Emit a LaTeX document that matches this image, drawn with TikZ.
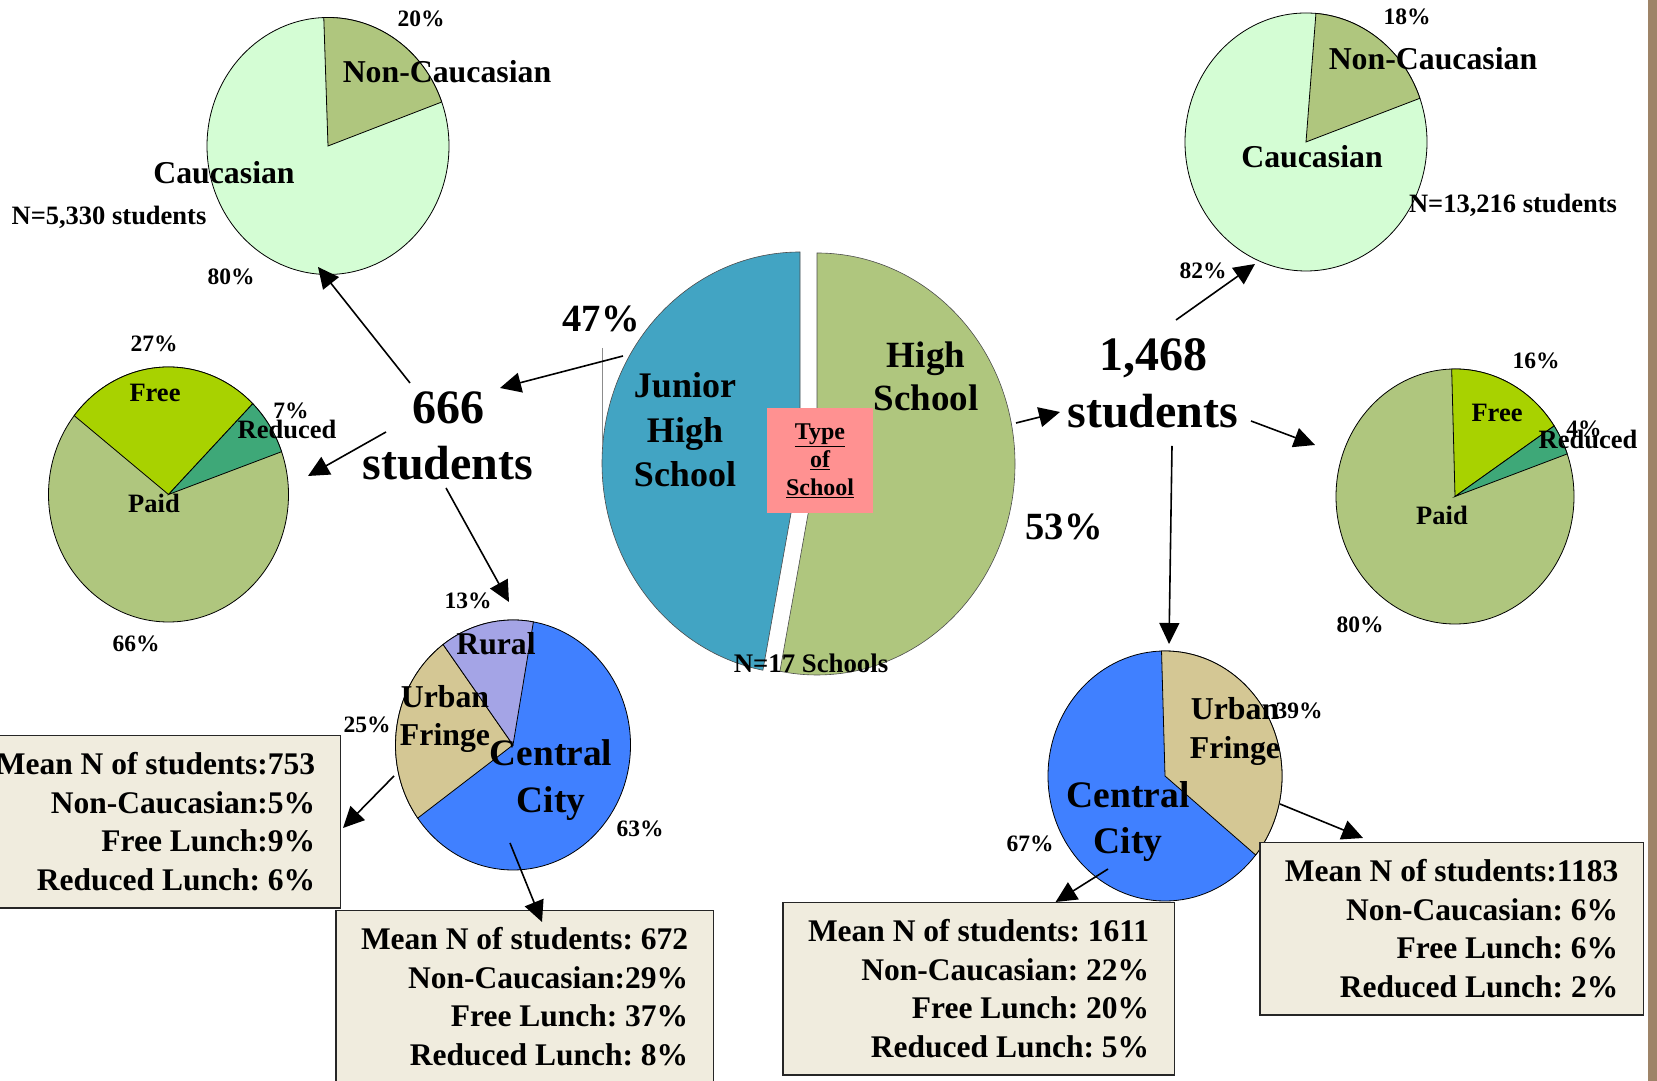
\documentclass[tikz,border=0pt]{standalone}
\usepackage{fontspec}
\setmainfont{Liberation Serif}
\usetikzlibrary{arrows.meta}
\definecolor{cauc}{RGB}{212,253,212}
\definecolor{olive}{RGB}{175,198,126}
\definecolor{freeg}{RGB}{168,210,0}
\definecolor{redg}{RGB}{62,168,120}
\definecolor{jrblue}{RGB}{66,164,195}
\definecolor{cityblue}{RGB}{64,128,255}
\definecolor{fringe}{RGB}{212,199,148}
\definecolor{rural}{RGB}{164,164,230}
\definecolor{pinkbox}{RGB}{255,145,145}
\definecolor{boxfill}{RGB}{240,236,222}
\definecolor{barbrown}{RGB}{158,132,104}
\newcommand\fs[2]{\fontsize{#1}{#2}\selectfont}
\frenchspacing
\begin{document}
\begin{tikzpicture}[x=1pt, y=1pt,
    pieline/.style={draw=black, line width=0.8pt},
    link/.style={line width=1.6pt, -{Triangle[length=21pt,width=20pt]}},
    pct/.style={inner sep=0pt, anchor=base, font=\bfseries\fs{23.5}{27}},
    big/.style={inner sep=0pt, anchor=base, font=\bfseries\fs{38.5}{44}},
    lab/.style 2 args={inner sep=0pt, align=center, font=\bfseries\fs{#1}{#2}},
    infobox/.style={draw=black!85, line width=1.5pt, fill=boxfill, align=right,
      inner xsep=25pt, inner ysep=17pt, anchor=north east, font=\bfseries\fs{31.5}{38.5}}]
  \useasboundingbox (0,0) rectangle (1657,1081);
  \fill[barbrown] (1648,0) rectangle (1657,1081);

  \begin{scope}[shift={(800,618)}]
    \filldraw[draw=black!70, line width=0.6pt, fill=jrblue] (0,0) -- (90:198pt and 211pt)
      arc[start angle=90, end angle=259.2, x radius=198pt, y radius=211pt] -- cycle;
  \end{scope}
  \begin{scope}[shift={(817,617)}]
    \filldraw[draw=black!70, line width=0.6pt, fill=olive] (0,0) -- (90:198pt and 211pt)
      arc[start angle=90, end angle=-100.8, x radius=198pt, y radius=211pt] -- cycle;
  \end{scope}

  \begin{scope}[shift={(328,935)}]
    \filldraw[pieline, fill=cauc] (0,0) ellipse[x radius=121pt, y radius=128.5pt];
    \filldraw[pieline, fill=olive] (0,0) -- (20:121pt and 128.5pt)
      arc[start angle=20, end angle=92, x radius=121pt, y radius=128.5pt] -- cycle;
  \end{scope}

  \begin{scope}[shift={(1306,939)}]
    \filldraw[pieline, fill=cauc] (0,0) ellipse[x radius=121pt, y radius=129pt];
    \filldraw[pieline, fill=olive] (0,0) -- (19.8:121pt and 129pt)
      arc[start angle=19.8, end angle=85.3, x radius=121pt, y radius=129pt] -- cycle;
  \end{scope}

  \begin{scope}[shift={(168.5,586.5)}]
    \filldraw[pieline, fill=olive] (0,0) ellipse[x radius=120pt, y radius=127.5pt];
    \filldraw[pieline, fill=freeg] (0,0) -- (45.4:120pt and 127.5pt)
      arc[start angle=45.4, end angle=141.8, x radius=120pt, y radius=127.5pt] -- cycle;
    \filldraw[pieline, fill=redg] (0,0) -- (19.6:120pt and 127.5pt)
      arc[start angle=19.6, end angle=45.4, x radius=120pt, y radius=127.5pt] -- cycle;
  \end{scope}

  \begin{scope}[shift={(1455,584.5)}]
    \filldraw[pieline, fill=olive] (0,0) ellipse[x radius=119pt, y radius=127.5pt];
    \filldraw[pieline, fill=freeg] (0,0) -- (33.6:119pt and 127.5pt)
      arc[start angle=33.6, end angle=91.6, x radius=119pt, y radius=127.5pt] -- cycle;
    \filldraw[pieline, fill=redg] (0,0) -- (19.5:119pt and 127.5pt)
      arc[start angle=19.5, end angle=33.6, x radius=119pt, y radius=127.5pt] -- cycle;
  \end{scope}

  \begin{scope}[shift={(513,336)}]
    \filldraw[pieline, fill=cityblue] (0,0) ellipse[x radius=117.5pt, y radius=125pt];
    \filldraw[pieline, fill=fringe] (0,0) -- (126.5:117.5pt and 125pt)
      arc[start angle=126.5, end angle=215.8, x radius=117.5pt, y radius=125pt] -- cycle;
    \filldraw[pieline, fill=rural] (0,0) -- (80:117.5pt and 125pt)
      arc[start angle=80, end angle=126.5, x radius=117.5pt, y radius=125pt] -- cycle;
  \end{scope}

  \begin{scope}[shift={(1165,305)}]
    \filldraw[pieline, fill=cityblue] (0,0) ellipse[x radius=117pt, y radius=125pt];
    \filldraw[pieline, fill=fringe] (0,0) -- (-39.2:117pt and 125pt)
      arc[start angle=-39.2, end angle=91.7, x radius=117pt, y radius=125pt] -- cycle;
  \end{scope}

  \node[infobox] (jrfringebox) at (341,346) {Mean N of students:753\\Non-Caucasian:5\%\\Free Lunch:9\%\\Reduced Lunch: 6\%};
  \node[infobox] (jrcitybox) at (714,171) {Mean N of students: 672\\Non-Caucasian:29\%\\Free Lunch: 37\%\\Reduced Lunch: 8\%};
  \node[infobox] (hscitybox) at (1175,179) {Mean N of students: 1611\\Non-Caucasian: 22\%\\Free Lunch: 20\%\\Reduced Lunch: 5\%};
  \node[infobox] (hsfringebox) at (1644,239) {Mean N of students:1183\\Non-Caucasian: 6\%\\Free Lunch: 6\%\\Reduced Lunch: 2\%};

  \coordinate (jrout) at (623,725);
  \coordinate (jrin) at (500,693);
  \coordinate (jrtoeth) at (410,698);
  \coordinate (jrethtip) at (318,814);
  \coordinate (jrtolunch) at (386,649);
  \coordinate (jrlunchtip) at (308,605);
  \coordinate (jrtoloc) at (446,593);
  \coordinate (jrloctip) at (509,479);
  \coordinate (jrfringeout) at (394,305);
  \coordinate (jrfringetip) at (343,253);
  \coordinate (jrcityout) at (510,238);
  \coordinate (jrcitytip) at (542,159);
  \coordinate (hsout) at (1016,658);
  \coordinate (hsin) at (1060,669);
  \coordinate (hstoeth) at (1176,761);
  \coordinate (hsethtip) at (1255,817);
  \coordinate (hstolunch) at (1251,660);
  \coordinate (hslunchtip) at (1315,636);
  \coordinate (hstoloc) at (1172,635);
  \coordinate (hsloctip) at (1169,437);
  \coordinate (hscityout) at (1108,212);
  \coordinate (hscitytip) at (1055.6,179);
  \coordinate (hsfringeout) at (1280,277);
  \coordinate (hsfringetip) at (1363,243);
  \coordinate (leadtop) at (602,733);
  \coordinate (leadbot) at (602,636);

  \draw[black!45, line width=0.6pt] (leadtop) -- (leadbot);
  \draw[link] (jrout) -- (jrin);
  \draw[link] (jrtoeth) -- (jrethtip);
  \draw[link] (jrtolunch) -- (jrlunchtip);
  \draw[link] (jrtoloc) -- (jrloctip);
  \draw[link] (jrfringeout) -- (jrfringetip);
  \draw[link] (jrcityout) -- (jrcitytip);
  \draw[link] (hsout) -- (hsin);
  \draw[link] (hstoeth) -- (hsethtip);
  \draw[link] (hstolunch) -- (hslunchtip);
  \draw[link] (hstoloc) -- (hsloctip);
  \draw[link] (hscityout) -- (hscitytip);
  \draw[link] (hsfringeout) -- (hsfringetip);

  \node[lab={36}{44.5}] (jrname) at (685,651) {Junior\\High\\School};
  \node[lab={37}{43}] (hsname) at (926,705) {High\\School};
  \node[lab={24}{28}, fill=pinkbox, minimum width=106pt, minimum height=105pt] (typeschool) at (820,620.5)
    {\underline{Type}\\\underline{of}\\\underline{School}};
  \node[lab={26.8}{30}, anchor=base] (nschools) at (811,408) {N=17 Schools};
  \node[big] (jrpct) at (601,749) {47\%};
  \node[big] (hspct) at (1064,541) {53\%};
  \node[lab={48}{56}] (jrcount) at (448,645) {666\\students};
  \node[lab={48}{57}] (hscount) at (1153,698) {1,468\\students};

  \node[pct] (jrnonpct) at (421,1054) {20\%};
  \node[lab={31.8}{36}, anchor=base] (jrnon) at (447,998) {Non-Caucasian};
  \node[lab={31.8}{36}, anchor=base] (jrcau) at (224,897) {Caucasian};
  \node[lab={26.5}{30}, anchor=base] (jrN) at (109,856) {N=5,330 students};
  \node[pct] (jrcaupct) at (231,796) {80\%};

  \node[pct] (hsnonpct) at (1407,1056) {18\%};
  \node[lab={31.8}{36}, anchor=base] (hsnon) at (1433,1011) {Non-Caucasian};
  \node[lab={31.8}{36}, anchor=base] (hscau) at (1312,913) {Caucasian};
  \node[lab={26.5}{30}, anchor=base] (hsN) at (1513,868) {N=13,216 students};
  \node[pct] (hscaupct) at (1203,802) {82\%};

  \node[pct] (jrfreepct) at (154,729) {27\%};
  \node[lab={26.5}{30}, anchor=base] (jrfree) at (155,679) {Free};
  \node[pct] (jrredpct) at (291,662) {7\%};
  \node[lab={26.5}{30}, anchor=base] (jrred) at (287,642) {Reduced};
  \node[lab={26.5}{30}, anchor=base] (jrpaid) at (154,568) {Paid};
  \node[pct] (jrpaidpct) at (136,429) {66\%};

  \node[pct] (hsfreepct) at (1536,712) {16\%};
  \node[lab={26.5}{30}, anchor=base] (hsfree) at (1497,659) {Free};
  \node[pct] (hsredpct) at (1584,644) {4\%};
  \node[lab={26.5}{30}, anchor=base] (hsred) at (1588,632) {Reduced};
  \node[lab={26.5}{30}, anchor=base] (hspaid) at (1442,556) {Paid};
  \node[pct] (hspaidpct) at (1360,448) {80\%};

  \node[pct] (jrruralpct) at (468,472) {13\%};
  \node[lab={31.7}{36}, anchor=base] (jrrural) at (496,426) {Rural};
  \node[lab={31.8}{38}] (jrfringe) at (445,362) {Urban\\Fringe};
  \node[lab={37.3}{47}] (jrcity) at (551,301) {Central\\City};
  \node[pct] (jrfringepct) at (367,348) {25\%};
  \node[pct] (jrcitypct) at (640,244) {63\%};

  \node[lab={31.8}{39}] (hsfringe) at (1235,350) {Urban\\Fringe};
  \node[pct] (hsfringepct) at (1299,362) {39\%};
  \node[lab={37.5}{46}] (hscity) at (1128,259) {Central\\City};
  \node[pct] (hscitypct) at (1030,229) {67\%};
\end{tikzpicture}
\end{document}
